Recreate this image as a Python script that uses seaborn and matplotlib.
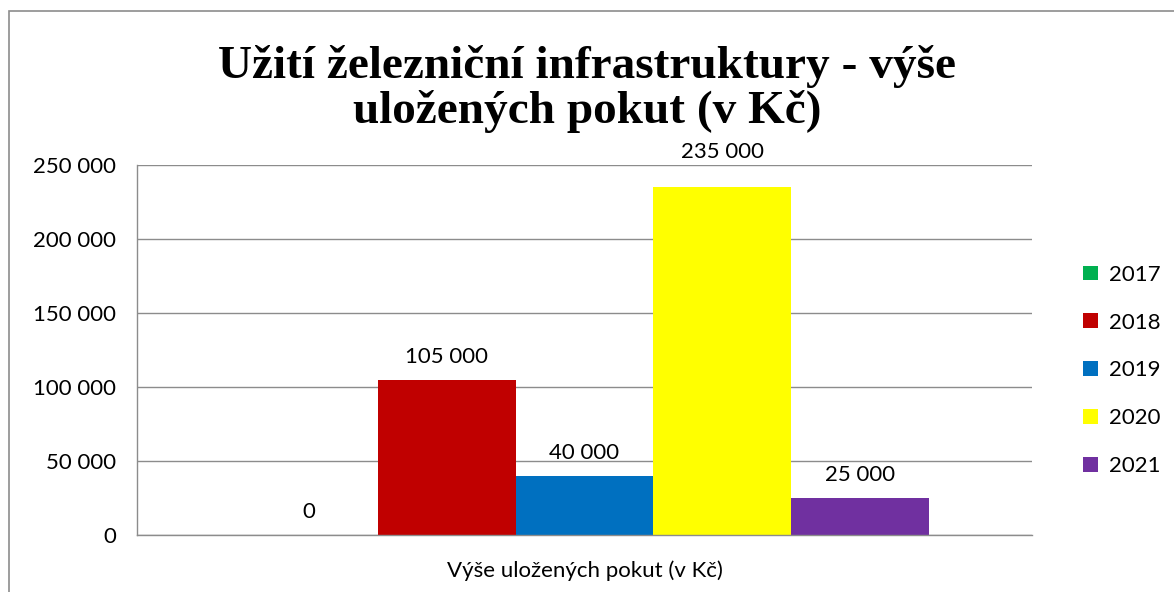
import matplotlib
matplotlib.use('Agg')
import matplotlib.pyplot as plt
import matplotlib.patches as mpatches
import seaborn as sns
import pandas as pd

# data
category = 'Výše uložených pokut (v Kč)'
years = ['2017', '2018', '2019', '2020', '2021']
fines = [0, 105000, 40000, 235000, 25000]
colors = ['#00B050', '#C00000', '#0070C0', '#FFFF00', '#7030A0']
yticks = [0, 50000, 100000, 150000, 200000, 250000]

df = pd.DataFrame({'kat': [category] * len(years), 'rok': years, 'pokuta': fines})

sns.set_style('white')
plt.rcParams['font.family'] = ['Lato', 'DejaVu Sans']
plt.rcParams['text.color'] = 'black'
plt.rcParams['xtick.labelcolor'] = 'black'
plt.rcParams['ytick.labelcolor'] = 'black'

fs_tick = 16
fs_title = 34


def fmt(v):
    return f'{int(v):,}'.replace(',', ' ')


fig = plt.figure(figsize=[11.74, 5.92], dpi=100)
ax = fig.add_axes([0.1167, 0.0963, 0.7624, 0.625])

sns.barplot(data=df, x='kat', y='pokuta', hue='rok', palette=colors,
            width=0.77, saturation=1, ax=ax, legend=True,
            edgecolor='none', linewidth=0)

for cont in ax.containers:
    h = cont[0].get_height()
    ax.bar_label(cont, labels=[fmt(b.get_height()) for b in cont],
                 padding=18 if h > 200000 else 9, fontsize=fs_tick, color='black')

ax.set_ylim(0, 250000)
ax.set_xlim(-0.5, 0.5)
ax.set_yticks(yticks)
ax.set_yticklabels([fmt(v) for v in yticks], fontsize=fs_tick)
ax.yaxis.grid(True, color='#8c8c8c', linewidth=1)
ax.set_axisbelow(True)
ax.tick_params(axis='y', length=7, color='#8c8c8c', width=1, pad=8)
ax.tick_params(axis='x', which='major', length=0, labelsize=fs_tick, pad=18)
ax.set_xticks([-0.5, 0.5], minor=True)
ax.tick_params(axis='x', which='minor', length=9, color='#8c8c8c', width=1)
ax.set_xlabel('')
ax.set_ylabel('')

for s in ['top', 'right']:
    ax.spines[s].set_visible(False)
for s in ['left', 'bottom']:
    ax.spines[s].set_color('#8c8c8c')
    ax.spines[s].set_linewidth(1)

leg = ax.legend(loc='center left', bbox_to_anchor=(1.035, 0.445), frameon=False,
                fontsize=fs_tick, handlelength=0.65, handleheight=0.65,
                handletextpad=0.5, labelspacing=1.25)

fig.text(0.5, 0.85, 'Užití železniční infrastruktury - výše\nuložených pokut (v Kč)',
         ha='center', va='center', fontsize=fs_title, fontweight='bold',
         color='black', family=['Liberation Serif', 'DejaVu Serif'], linespacing=1.05)

# chart border (only left and top edges fall inside the picture)
fig.patches.append(mpatches.Rectangle((9 / 1174, -0.1), 2, (592 - 11) / 592 + 0.1,
                                      transform=fig.transFigure, fill=False,
                                      edgecolor='#8c8c8c', linewidth=1.2))

fig.savefig('out.png', dpi=100)
